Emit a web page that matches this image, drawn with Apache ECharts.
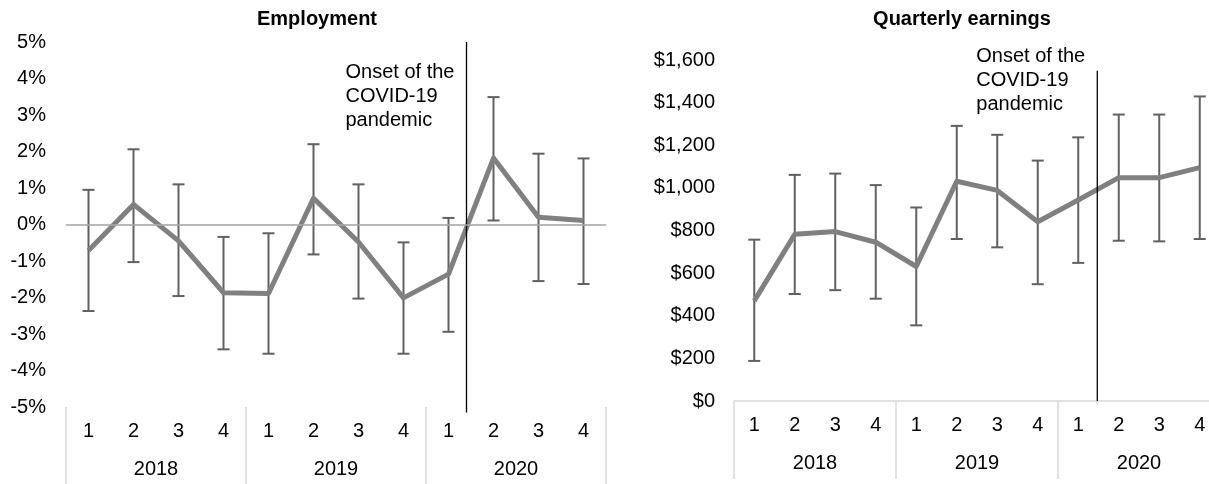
<!DOCTYPE html>
<html>
<head>
<meta charset="utf-8">
<script src="https://cdn.jsdelivr.net/npm/echarts@6/dist/echarts.min.js"></script>
<style>
  html, body { margin: 0; padding: 0; background: #fff; overflow: hidden; }
  /* the right panel's last column runs past the window edge */
  #chart { width: 1230px; height: 484px; }
</style>
</head>
<body>
<div id="chart"></div>
<script>
// Quarter / year categories shared by both panels
const quarters = ['1', '2', '3', '4', '1', '2', '3', '4', '1', '2', '3', '4'];
const years = ['2018', '2019', '2020'];

// Employment change (%), with confidence interval bounds
const employment     = [-0.71, 0.55, -0.45, -1.87, -1.89, 0.72, -0.48, -2.01, -1.36, 1.82, 0.20, 0.11];
const employmentLow  = [-2.37, -1.03, -1.96, -3.42, -3.54, -0.82, -2.03, -3.54, -2.94, 0.11, -1.55, -1.63];
const employmentHigh = [0.95, 2.06, 1.10, -0.34, -0.24, 2.20, 1.10, -0.49, 0.18, 3.49, 1.94, 1.81];

// Quarterly earnings ($), with confidence interval bounds
const earnings     = [470, 782, 795, 745, 631, 1031, 988, 841, 943, 1048, 1048, 1095];
const earningsLow  = [188, 502, 520, 480, 355, 760, 721, 548, 648, 752, 749, 760];
const earningsHigh = [757, 1061, 1067, 1013, 908, 1291, 1249, 1128, 1237, 1344, 1344, 1429];

// Axis ranges
const employmentAxis = { min: -5, max: 5, interval: 1 };
const earningsAxis = { min: 0, max: 1600, interval: 200 };

// Onset of the pandemic, as a fractional quarter index
const onsetEmployment = 8.4;
const onsetEarnings = 8.47;

const FONT = '"Liberation Sans", Arial, sans-serif';
const LIGHT = '#d9d9d9';

const chart = echarts.init(document.getElementById('chart'), null, { renderer: 'canvas' });

function quarterAxis(g) {
  return {
    type: 'category', gridIndex: g, position: 'bottom', data: quarters,
    axisLine: { show: true, lineStyle: { color: LIGHT, width: 1.5 } },
    axisTick: { show: false },
    axisLabel: { color: '#000', fontSize: 20, fontFamily: FONT, margin: 14, interval: 0 },
    splitLine: { show: false }
  };
}

function yearAxis(g) {
  return {
    type: 'category', gridIndex: g, position: 'bottom', data: years,
    axisLine: { show: false },
    axisTick: { show: true, length: 78, interval: 0, lineStyle: { color: LIGHT, width: 1.5 } },
    axisLabel: { color: '#000', fontSize: 20, fontFamily: FONT, margin: 52, interval: 0 },
    splitLine: { show: false }
  };
}

function errorBars(low, high, g) {
  return {
    type: 'custom', xAxisIndex: g * 2, yAxisIndex: g, z: 2, silent: true,
    data: low.map((l, i) => [i, l, high[i]]),
    encode: { x: 0, y: [1, 2] },
    renderItem(params, api) {
      const i = api.value(0);
      const lo = api.coord([i, api.value(1)]);
      const hi = api.coord([i, api.value(2)]);
      const cap = 6;
      const style = { stroke: '#616161', lineWidth: 2 };
      return {
        type: 'group',
        children: [
          { type: 'line', shape: { x1: lo[0], y1: lo[1], x2: hi[0], y2: hi[1] }, style },
          { type: 'line', shape: { x1: lo[0] - cap, y1: lo[1], x2: lo[0] + cap, y2: lo[1] }, style },
          { type: 'line', shape: { x1: hi[0] - cap, y1: hi[1], x2: hi[0] + cap, y2: hi[1] }, style }
        ]
      };
    }
  };
}

function onsetMarker(pos, bottom, top, textTop, g) {
  return {
    type: 'custom', xAxisIndex: g * 2, yAxisIndex: g, z: 4, silent: true,
    data: [[Math.floor(pos), bottom, top, textTop]],
    encode: { x: 0, y: 1 },
    renderItem(params, api) {
      const base = Math.floor(pos);
      const band = api.size([1, 0])[0];
      const pb = api.coord([base, api.value(1)]);
      const pt = api.coord([base, api.value(2)]);
      const ptext = api.coord([base, api.value(3)]);
      const x = pb[0] + (pos - base) * band;
      return {
        type: 'group',
        children: [
          { type: 'line', shape: { x1: x, y1: pb[1], x2: x, y2: pt[1] },
            style: { stroke: '#000', lineWidth: 1.3 } },
          { type: 'text',
            style: { text: 'Onset of the\nCOVID-19\npandemic', x: x - 121, y: ptext[1],
                     align: 'left', verticalAlign: 'top', lineHeight: 24,
                     font: '20px ' + FONT, fill: '#000' } }
        ]
      };
    }
  };
}

function valueLine(values, g, zeroLine) {
  const s = {
    type: 'line', xAxisIndex: g * 2, yAxisIndex: g, z: 3, silent: true,
    data: values, symbol: 'none',
    lineStyle: { color: '#808080', width: 5, join: 'round' }
  };
  if (zeroLine) {
    s.markLine = {
      silent: true, symbol: ['none', 'none'], label: { show: false },
      lineStyle: { color: '#ababab', width: 1.5, type: 'solid' },
      data: [{ yAxis: 0 }]
    };
  }
  return s;
}

const option = {
  animation: false,
  backgroundColor: '#fff',
  title: [
    { text: 'Employment', left: 317, top: 9, textAlign: 'center', padding: 0,
      textStyle: { fontFamily: FONT, fontSize: 20, fontWeight: 'bold', color: '#000' } },
    { text: 'Quarterly earnings', left: 962, top: 9, textAlign: 'center', padding: 0,
      textStyle: { fontFamily: FONT, fontSize: 20, fontWeight: 'bold', color: '#000' } }
  ],
  grid: [
    { left: 66, top: 42, width: 540, height: 365 },
    { left: 734, top: 60, width: 486, height: 341 }
  ],
  xAxis: [quarterAxis(0), yearAxis(0), quarterAxis(1), yearAxis(1)],
  yAxis: [
    {
      type: 'value', gridIndex: 0, ...employmentAxis,
      axisLine: { show: false }, axisTick: { show: false }, splitLine: { show: false },
      axisLabel: { color: '#000', fontSize: 20, fontFamily: FONT, margin: 20,
                   formatter: v => v + '%' }
    },
    {
      type: 'value', gridIndex: 1, ...earningsAxis,
      axisLine: { show: false }, axisTick: { show: false }, splitLine: { show: false },
      axisLabel: { color: '#000', fontSize: 20, fontFamily: FONT, margin: 19,
                   formatter: v => '$' + v.toLocaleString('en-US') }
    }
  ],
  series: [
    errorBars(employmentLow, employmentHigh, 0),
    valueLine(employment, 0, true),
    onsetMarker(onsetEmployment, -5.15, 5, 4.5, 0),
    errorBars(earningsLow, earningsHigh, 1),
    valueLine(earnings, 1, false),
    onsetMarker(onsetEarnings, 0, 1550, 1673, 1)
  ]
};

chart.setOption(option);
</script>
</body>
</html>
